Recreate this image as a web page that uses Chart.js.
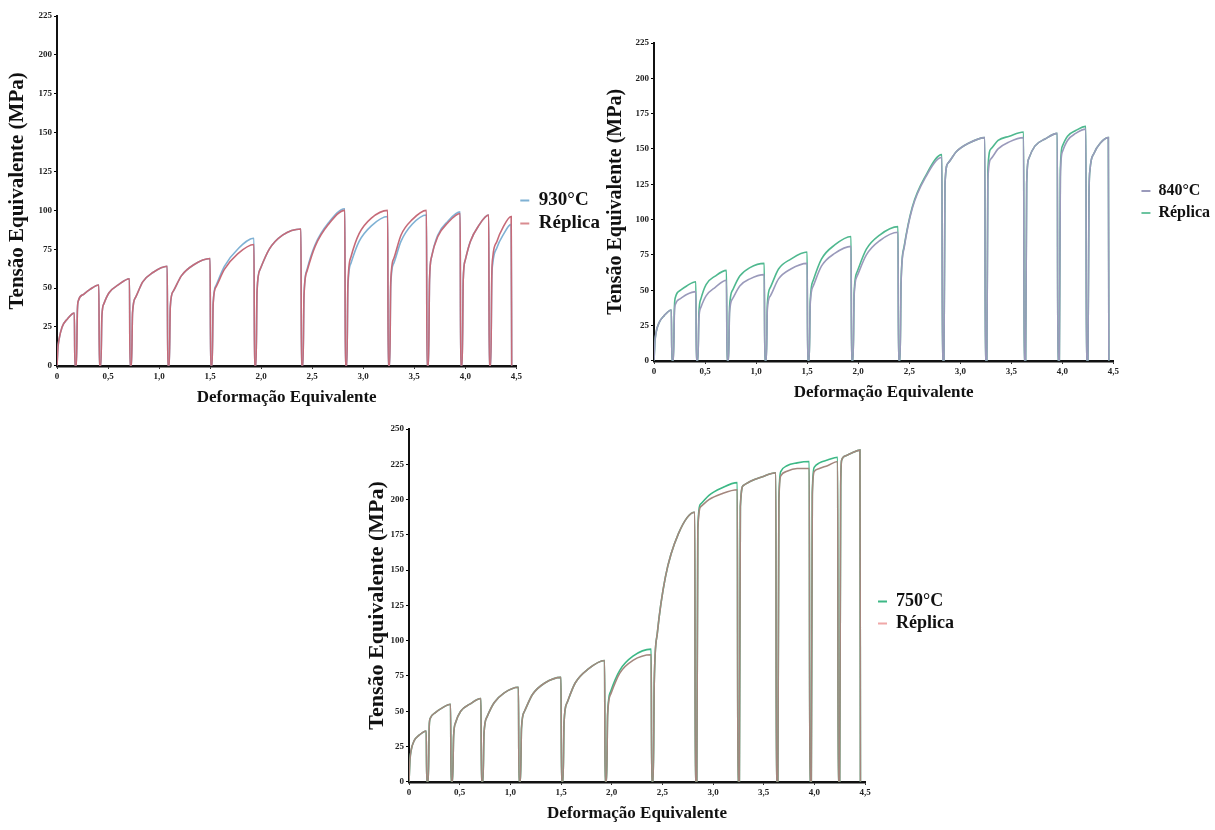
<!DOCTYPE html>
<html>
<head>
<meta charset="utf-8">
<script src="https://cdn.jsdelivr.net/npm/chart.js@4.4.1/dist/chart.umd.min.js"></script>
<style>
  body { margin:0; background:#fff; width:1215px; height:830px; position:relative; overflow:hidden; }
  .box { position:absolute; }
</style>
</head>
<body>
<div class="box" style="left:0px;top:0px;width:612px;height:410px"><canvas id="c930"></canvas></div>
<div class="box" style="left:600px;top:30px;width:624px;height:381px"><canvas id="c840"></canvas></div>
<div class="box" style="left:360px;top:415px;width:608px;height:415px"><canvas id="c750"></canvas></div>
<script>
// strain schedule shared by the three tests (load, unload, pause, reload)
const strain = [
  0,    0.01, 0.02, 0.05, 0.10, 0.17, 0.175,
  0.19, 0.20, 0.21, 0.26, 0.32, 0.41, 0.415,
  0.43, 0.44, 0.46, 0.51, 0.60, 0.71, 0.715,
  0.73, 0.74, 0.77, 0.84, 0.94, 1.08, 1.085,
  1.10, 1.11, 1.14, 1.22, 1.34, 1.50, 1.505,
  1.52, 1.53, 1.56, 1.64, 1.77, 1.93, 1.935,
  1.95, 1.96, 1.99, 2.08, 2.21, 2.39, 2.395,
  2.41, 2.42, 2.45, 2.53, 2.66, 2.82, 2.825,
  2.84, 2.85, 2.88, 2.96, 3.08, 3.24, 3.245,
  3.26, 3.27, 3.30, 3.37, 3.48, 3.62, 3.625,
  3.64, 3.65, 3.67, 3.73, 3.83, 3.95, 3.955,
  3.97, 3.98, 4.00, 4.05, 4.13, 4.23, 4.235,
  4.25, 4.26, 4.27, 4.31, 4.37, 4.45, 4.455
];

// 930 °C
const t930 = [
  0, 12, 17, 25, 30, 34, 0,
  0, 36, 42, 46, 49, 52, 0,
  0, 32, 40, 47, 52, 56, 0,
  0, 34, 44, 54, 60, 64, 0,
  0, 38, 48, 58, 65, 69, 0,
  0, 40, 52, 64, 75, 82, 0,
  0, 48, 62, 75, 84, 88, 0,
  0, 45, 62, 78, 92, 101, 0,
  0, 50, 66, 80, 90, 96, 0,
  0, 52, 66, 80, 91, 97, 0,
  0, 55, 70, 84, 93, 99, 0,
  0, 55, 68, 80, 90, 97, 0,
  0, 55, 66, 76, 84, 91, 0
];
const r930 = [
  0, 12, 17, 25, 30, 34, 0,
  0, 36, 42, 46, 49, 52, 0,
  0, 32, 40, 47, 52, 56, 0,
  0, 34, 44, 54, 60, 64, 0,
  0, 38, 48, 58, 65, 69, 0,
  0, 40, 51, 62, 72, 78, 0,
  0, 48, 62, 75, 84, 88, 0,
  0, 45, 61, 77, 91, 100, 0,
  0, 52, 70, 85, 95, 100, 0,
  0, 54, 69, 84, 94, 100, 0,
  0, 55, 70, 83, 92, 98, 0,
  0, 55, 68, 80, 90, 97, 0,
  0, 58, 70, 80, 89, 96, 0
];

// 840 °C
const t840 = [
  0, 14, 20, 27, 32, 36, 0,
  0, 34, 40, 44, 47, 49, 0,
  0, 30, 38, 46, 52, 57, 0,
  0, 34, 44, 53, 58, 61, 0,
  0, 36, 46, 58, 65, 69, 0,
  0, 40, 53, 67, 76, 81, 0,
  0, 46, 60, 75, 85, 91, 0,
  0, 55, 80, 108, 130, 144, 0,
  0, 125, 140, 148, 154, 158, 0,
  0, 128, 143, 150, 155, 158, 0,
  0, 125, 143, 152, 157, 161, 0,
  0, 130, 148, 156, 161, 164, 0,
  0, 115, 135, 147, 154, 158, 0
];
const r840 = [
  0, 14, 20, 27, 32, 36, 0,
  0, 38, 45, 50, 53, 56, 0,
  0, 34, 44, 54, 60, 64, 0,
  0, 38, 50, 60, 66, 69, 0,
  0, 40, 52, 65, 72, 77, 0,
  0, 42, 57, 72, 82, 88, 0,
  0, 48, 63, 79, 89, 95, 0,
  0, 56, 81, 109, 131, 146, 0,
  0, 125, 140, 148, 154, 158, 0,
  0, 135, 150, 156, 159, 162, 0,
  0, 125, 143, 152, 157, 161, 0,
  0, 135, 152, 159, 163, 166, 0,
  0, 115, 135, 147, 154, 158, 0
];

// 750 °C
const t750 = [
  0, 16, 22, 29, 33, 36, 0,
  0, 40, 45, 49, 52, 55, 0,
  0, 32, 42, 50, 55, 59, 0,
  0, 34, 46, 56, 63, 67, 0,
  0, 38, 50, 62, 70, 74, 0,
  0, 42, 56, 70, 80, 86, 0,
  0, 48, 64, 79, 89, 94, 0,
  0, 70, 105, 145, 176, 191, 0,
  0, 180, 197, 203, 208, 212, 0,
  0, 195, 210, 213, 216, 219, 0,
  0, 200, 220, 224, 226, 227, 0,
  0, 205, 223, 226, 228, 230, 0,
  0, 210, 228, 231, 233, 235, 0
];
const r750 = [
  0, 16, 22, 29, 33, 36, 0,
  0, 40, 45, 49, 52, 55, 0,
  0, 32, 42, 50, 55, 59, 0,
  0, 34, 46, 56, 63, 67, 0,
  0, 38, 50, 62, 70, 74, 0,
  0, 42, 56, 70, 80, 86, 0,
  0, 47, 62, 77, 86, 90, 0,
  0, 70, 105, 145, 176, 191, 0,
  0, 178, 195, 200, 204, 207, 0,
  0, 195, 210, 213, 216, 219, 0,
  0, 198, 217, 220, 222, 222, 0,
  0, 203, 220, 222, 224, 227, 0,
  0, 210, 228, 231, 233, 235, 0
];

const xTicks = [0, 0.5, 1, 1.5, 2, 2.5, 3, 3.5, 4, 4.5];
const serif = "'Liberation Serif', 'Times New Roman', serif";

const pts = arr => strain.map((x, i) => ({ x: x, y: arr[i] }));

function makeChart(id, cfg) {
  const ds = (label, arr, color, order) => ({
    label, data: pts(arr), borderColor: color, backgroundColor: color,
    borderWidth: 1.6, pointRadius: 0, cubicInterpolationMode: 'monotone', order
  });
  new Chart(document.getElementById(id), {
    type: 'line',
    data: { datasets: [
      ds(cfg.labels[0], cfg.a, cfg.colors[0], cfg.orders[0]),
      ds(cfg.labels[1], cfg.b, cfg.colors[1], cfg.orders[1])
    ]},
    options: {
      responsive: true, maintainAspectRatio: false, animation: false,
      layout: { padding: cfg.pad },
      plugins: {
        tooltip: { enabled: false },
        legend: {
          position: 'right', fullSize: cfg.fullLegend,
          // an empty title only nudges the two entries down
          title: { display: cfg.nudge > 0, text: ' ', padding: 0, font: { size: Math.max(cfg.nudge, 1) / 1.2 } },
          labels: {
            boxWidth: 9, boxHeight: 2, padding: cfg.legendPad, color: '#111',
            font: { family: serif, size: cfg.legendSize, weight: 'bold' },
            sort: (a, b) => a.datasetIndex - b.datasetIndex,
            generateLabels: ch => Chart.defaults.plugins.legend.labels.generateLabels(ch)
              .map(it => ({ ...it, fillStyle: cfg.legendColors[it.datasetIndex],
                            strokeStyle: cfg.legendColors[it.datasetIndex], lineWidth: 0 }))
          }
        }
      },
      scales: {
        x: {
          type: 'linear', min: 0, max: 4.5,
          afterBuildTicks: s => { s.ticks = xTicks.map(v => ({ value: v })); },
          ticks: { color: '#222', font: { family: serif, size: 9, weight: 'bold' }, padding: 2,
                   maxRotation: 0, callback: v => v === 0 ? '0' : v.toFixed(1).replace('.', ',') },
          grid: { drawOnChartArea: false, drawTicks: true, tickLength: 3, color: '#000' },
          border: { display: true, color: '#111', width: 2.5 },
          title: { display: true, text: 'Deformação Equivalente', color: '#111',
                   font: { family: serif, size: 17, weight: 'bold' }, padding: { top: 4, bottom: 0 } }
        },
        y: {
          min: 0, max: cfg.ymax,
          afterFit: s => { s.width = cfg.yWidth; },
          ticks: { stepSize: 25, color: '#222', font: { family: serif, size: 9, weight: 'bold' }, padding: 2 },
          grid: { drawOnChartArea: false, drawTicks: true, tickLength: 3, color: '#000' },
          border: { display: true, color: '#111', width: 2 },
          title: { display: true, text: 'Tensão Equivalente (MPa)', color: '#111',
                   font: { family: serif, size: cfg.yTitleSize, weight: 'bold' }, padding: { top: 0, bottom: 2 } }
        },
        gap: {
          position: 'right', display: true,
          afterFit: s => { s.width = cfg.gap; },
          ticks: { display: false }, grid: { display: false }, border: { display: false }
        }
      }
    }
  });
}

makeChart('c930', {
  labels: ['930°C', 'Réplica'], a: t930, b: r930,
  colors: ['#7fb1d4', '#c66a78'], legendColors: ['#7fb1d4', '#d98c90'], orders: [1, 0],
  ymax: 225, yWidth: 52, yTitleSize: 21, gap: 0, fullLegend: true, nudge: 0,
  legendSize: 19, legendPad: 4,
  pad: { left: 5, top: 16, right: 2, bottom: 2 }
});
makeChart('c840', {
  labels: ['840°C', 'Réplica'], a: t840, b: r840,
  colors: ['#9a9abb', '#4fb88f'], legendColors: ['#9a9abb', '#6cc4a0'], orders: [0, 1],
  ymax: 225, yWidth: 50, yTitleSize: 20, gap: 22, fullLegend: false, nudge: 0,
  legendSize: 16, legendPad: 6,
  pad: { left: 4, top: 13, right: 4, bottom: 8 }
});
makeChart('c750', {
  labels: ['750°C', 'Réplica'], a: t750, b: r750,
  colors: ['#3db886', '#a4877e'], legendColors: ['#3db886', '#f0a8a8'], orders: [1, 0],
  ymax: 250, yWidth: 45, yTitleSize: 22, gap: 9, fullLegend: false, nudge: 14,
  legendSize: 18, legendPad: 4,
  pad: { left: 4, top: 14, right: 4, bottom: 6 }
});
</script>
</body>
</html>
